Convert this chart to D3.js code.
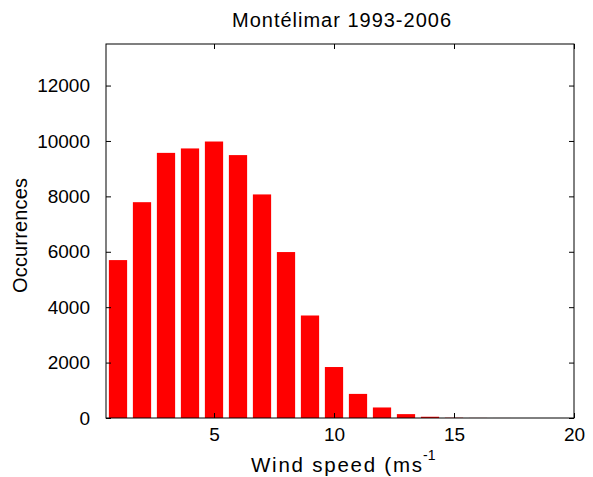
<!DOCTYPE html>
<html><head><meta charset="utf-8">
<script src="https://cdn.jsdelivr.net/npm/d3@7"></script>
<style>
body{margin:0;background:#fff;}
svg{display:block;font-family:"Liberation Sans",Arial,Helvetica,sans-serif;}
</style></head>
<body>
<script>
const windSpeeds = [1,2,3,4,5,6,7,8,9,10,11,12,13,14,15,16,17,18,19];
const occurrences = [5700,7790,9570,9730,9980,9490,8070,5990,3700,1840,870,380,140,45,10,3,1,0,0];
const xTicks = [5,10,15,20];
const yTicks = [0,2000,4000,6000,8000,10000,12000];
const title = "Montélimar 1993-2006";
const yLabel = "Occurrences";

const W = 593, H = 477;
const m = {left:106, right:574, top:44, bottom:418};
const svg = d3.select("body").append("svg").attr("width",W).attr("height",H);

const x = d3.scaleLinear().domain([0.5,20]).range([m.left,m.right]);
const y = d3.scaleLinear().domain([0,13500]).range([m.bottom,m.top]);
const bw = 0.76;

svg.append("g").selectAll("rect").data(windSpeeds).join("rect")
  .attr("x", d => x(d - bw/2))
  .attr("width", d => x(d + bw/2) - x(d - bw/2))
  .attr("y", (d,i) => y(occurrences[i]))
  .attr("height", (d,i) => y(0) - y(occurrences[i]))
  .attr("fill", "#ff0000");

const fs = 19;
const tick = 5;
const gx = svg.append("g").attr("transform",`translate(0,${m.bottom})`)
  .call(d3.axisBottom(x).tickValues(xTicks).tickSizeInner(-tick).tickSizeOuter(0).tickPadding(10));
const gxt = svg.append("g").attr("transform",`translate(0,${m.top})`)
  .call(d3.axisTop(x).tickValues(xTicks).tickSizeInner(-tick).tickSizeOuter(0).tickFormat(""));
const gy = svg.append("g").attr("transform",`translate(${m.left},0)`)
  .call(d3.axisLeft(y).tickValues(yTicks).tickSizeInner(-tick).tickSizeOuter(0).tickPadding(16).tickFormat(d3.format("d")));
const gyr = svg.append("g").attr("transform",`translate(${m.right},0)`)
  .call(d3.axisRight(y).tickValues(yTicks).tickSizeInner(-tick).tickSizeOuter(0).tickFormat(""));

[gx,gxt,gy,gyr].forEach(g=>{
  g.select(".domain").remove();
  g.selectAll("line").attr("stroke","#000").attr("stroke-width",1);
  g.selectAll("text").attr("font-size",fs).attr("font-family","Liberation Sans, Arial, sans-serif").attr("fill","#000");
});

svg.append("rect").attr("x",m.left).attr("y",m.top)
  .attr("width",m.right-m.left).attr("height",m.bottom-m.top)
  .attr("fill","none").attr("stroke","#000").attr("stroke-width",1);

svg.append("text").attr("x",232).attr("y",27)
  .attr("font-size",20).attr("textLength",219).attr("lengthAdjust","spacing").text(title);

const xl = svg.append("g");
xl.append("text").attr("x",251).attr("y",471.5).attr("font-size",20.5)
  .attr("textLength",171).attr("lengthAdjust","spacing").text("Wind speed (ms");
xl.append("text").attr("x",423).attr("y",460).attr("font-size",14).text("-1");

svg.append("text").attr("transform",`translate(27,235.5) rotate(-90)`)
  .attr("text-anchor","middle").attr("font-size",20)
  .attr("textLength",115).attr("lengthAdjust","spacing").text(yLabel);
</script>
</body></html>
